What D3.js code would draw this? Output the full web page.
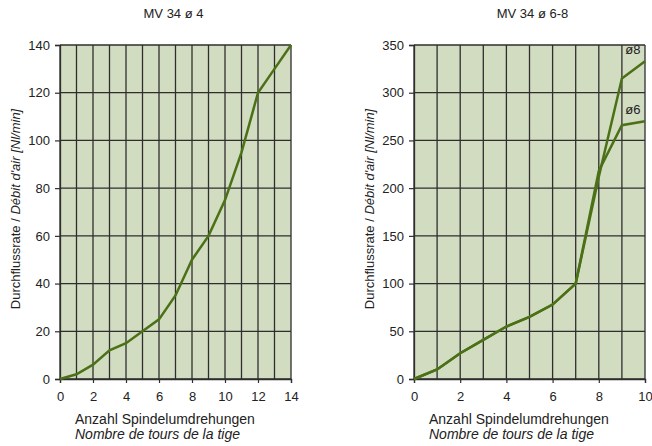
<!DOCTYPE html>
<html><head><meta charset="utf-8">
<script src="https://cdn.jsdelivr.net/npm/d3@7"></script>
<style>body{margin:0;background:#fff}svg{display:block;font-family:"Liberation Sans",Arial,sans-serif}</style>
</head><body><svg id="c" width="652" height="446"></svg>
<script>
// Left chart: MV 34 ø 4
const leftTitle = "MV 34 ø 4";
const leftX = [0,1,2,3,4,5,6,7,8,9,10,11,12,13,14];
const leftY = [0,2,6,12,15,20,25,35,50,60,75,95,120,130,140];
const leftXTicks = [0,2,4,6,8,10,12,14];
const leftYTicks = [0,20,40,60,80,100,120,140];

// Right chart: MV 34 ø 6-8
const rightTitle = "MV 34 ø 6-8";
const rightX = [0,1,2,3,4,5,6,7,8,9,10];
const rightY8 = [0,10,27,41,55,65,78,100,212,315,333];
const rightY6 = [0,10,27,41,55,65,78,100,218,266,270];
const rightXTicks = [0,2,4,6,8,10];
const rightYTicks = [0,50,100,150,200,250,300,350];
const seriesLabels = ["ø8","ø6"];

const xLabel1 = "Anzahl Spindelumdrehungen";
const xLabel2 = "Nombre de tours de la tige";
const yLabelA = "Durchflussrate / ";
const yLabelB = "Débit d'air [Nl/min]";

const svg = d3.select("#c");
const bg = "#d2dcc1", lineC = "#4b7117", gridC = "#2e2e2e", textC = "#222";

function panel(o){
  const g = svg.append("g");
  const x = d3.scaleLinear().domain(o.xDomain).range([o.left, o.right]);
  const y = d3.scaleLinear().domain(o.yDomain).range([o.bottom, o.top]);
  g.append("rect").attr("x",o.left).attr("y",o.top).attr("width",o.right-o.left).attr("height",o.bottom-o.top).attr("fill",bg);
  g.selectAll(".vg").data(d3.range(o.xDomain[0], o.xDomain[1]+1)).join("line")
    .attr("x1",d=>x(d)).attr("x2",d=>x(d)).attr("y1",o.top).attr("y2",o.bottom)
    .attr("stroke",gridC).attr("stroke-width",1.3);
  g.selectAll(".hg").data(o.yTicks).join("line")
    .attr("x1",o.left).attr("x2",o.right).attr("y1",d=>y(d)).attr("y2",d=>y(d))
    .attr("stroke",gridC).attr("stroke-width",1.3);
  const ax = g.append("g").attr("transform",`translate(0,${o.bottom})`)
    .call(d3.axisBottom(x).tickValues(o.xTicks).tickSize(4).tickPadding(9).tickFormat(d3.format("d")));
  const ay = g.append("g").attr("transform",`translate(${o.left},0)`)
    .call(d3.axisLeft(y).tickValues(o.yTicks).tickSize(5).tickPadding(5).tickFormat(d3.format("d")));
  [ax,ay].forEach(a=>{
    a.select(".domain").attr("stroke",gridC).attr("stroke-width",1.3);
    a.selectAll(".tick line").attr("stroke",gridC).attr("stroke-width",1.2);
    a.selectAll("text").attr("font-size",13).attr("fill",textC).attr("font-family","Liberation Sans, Arial, sans-serif");
  });
  const ln = d3.line().x(d=>x(d[0])).y(d=>y(d[1]));
  o.series.forEach(s=>{
    g.append("path").datum(o.xs.map((xv,i)=>[xv,s[i]])).attr("d",ln)
      .attr("fill","none").attr("stroke",lineC).attr("stroke-width",2.5).attr("stroke-linejoin","miter");
  });
  g.append("text").attr("x",(o.left+o.right)/2 + o.tdx).attr("y",18).attr("text-anchor","middle")
    .attr("font-size",13).attr("fill",textC).text(o.title);
  g.append("text").attr("x",o.left+15).attr("y",424).attr("font-size",14).attr("fill",textC).text(xLabel1);
  g.append("text").attr("x",o.left+15).attr("y",439).attr("font-size",14).attr("font-style","italic").attr("fill",textC).text(xLabel2);
  const yl = g.append("text").attr("transform",`translate(${o.ylx},${(o.top+o.bottom)/2 - 3}) rotate(-90)`)
    .attr("text-anchor","middle").attr("font-size",13).attr("fill",textC);
  yl.append("tspan").text(yLabelA);
  yl.append("tspan").attr("font-style","italic").text(yLabelB);
  return {x,y,g};
}

panel({title:leftTitle,left:60,right:291,top:45,bottom:379,xDomain:[0,14],yDomain:[0,140],
  xTicks:leftXTicks,yTicks:leftYTicks,xs:leftX,series:[leftY],ylx:20,tdx:-2});
const r = panel({title:rightTitle,left:414,right:645,top:45,bottom:379,xDomain:[0,10],yDomain:[0,350],
  xTicks:rightXTicks,yTicks:rightYTicks,xs:rightX,series:[rightY8,rightY6],ylx:374,tdx:3});
r.g.append("text").attr("x",r.x(9.15)).attr("y",r.y(rightY8[10])-7).attr("font-size",13).attr("fill",textC).text(seriesLabels[0]);
r.g.append("text").attr("x",r.x(9.15)).attr("y",r.y(rightY6[10])-7).attr("font-size",13).attr("fill",textC).text(seriesLabels[1]);
</script></body></html>
